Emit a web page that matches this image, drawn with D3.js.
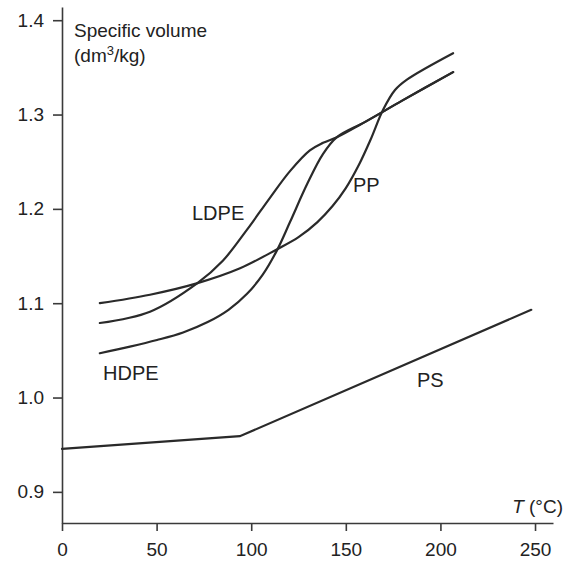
<!DOCTYPE html>
<html>
<head>
<meta charset="utf-8">
<script src="https://cdn.jsdelivr.net/npm/d3@7"></script>
<style>
  html, body { margin: 0; padding: 0; background: #fff; }
  svg { display: block; font-family: "Liberation Sans", Arial, sans-serif; }
</style>
</head>
<body>
<svg id="chart" width="574" height="563"></svg>
<script>
// temperature (°C) / specific volume (dm3/kg)
const ppT = [20, 46.5, 71.2, 94.1, 113.5, 125, 135, 143, 150, 157, 163, 169.7, 176, 182.3, 206.7];
const ppV = [1.100, 1.109, 1.121, 1.137, 1.157, 1.170, 1.186, 1.203, 1.222, 1.247, 1.273, 1.305, 1.326, 1.337, 1.365];

const ldpeT = [20, 46.5, 71.4, 85, 97.8, 110, 120.5, 131, 138, 145.3, 160, 180, 206.7];
const ldpeV = [1.079, 1.091, 1.121, 1.145, 1.178, 1.212, 1.240, 1.262, 1.270, 1.276, 1.292, 1.315, 1.345];

const hdpeT = [20, 35.9, 50.2, 64, 77, 88, 97.8, 106, 113.6, 120.5, 129.5, 137.9, 145.3, 160, 180, 206.7];
const hdpeV = [1.047, 1.054, 1.061, 1.069, 1.080, 1.093, 1.110, 1.130, 1.156, 1.186, 1.226, 1.258, 1.276, 1.292, 1.315, 1.345];

const psT = [0, 94, 248];
const psV = [0.9455, 0.959, 1.093];

const xTicks = [0, 50, 100, 150, 200, 250];
const yTicks = [0.9, 1.0, 1.1, 1.2, 1.3, 1.4];

const smooth = d3.curveCatmullRom.alpha(0.5);
const series = [
  { name: 'PP', t: ppT, v: ppV, lt: 153.8, lv: 1.218, curve: smooth },
  { name: 'LDPE', t: ldpeT, v: ldpeV, lt: 68.7, lv: 1.188, curve: smooth },
  { name: 'HDPE', t: hdpeT, v: hdpeV, lt: 21.7, lv: 1.019, curve: smooth },
  { name: 'PS', t: psT, v: psV, lt: 187.6, lv: 1.011, curve: d3.curveLinear }
];

const ink = '#2a2a2a';
const svg = d3.select('#chart');

// axes span a little past the last tick
const x = d3.scaleLinear().domain([0, 259.5]).range([62, 553]);
const y = d3.scaleLinear().domain([0.867, 1.414]).range([523, 7]);

svg.append('g')
  .attr('transform', `translate(0,${y(0.867)})`)
  .call(d3.axisBottom(x).tickValues(xTicks).tickSize(8).tickSizeOuter(0).tickPadding(12));

svg.append('g')
  .attr('transform', `translate(${x(0)},0)`)
  .call(d3.axisLeft(y).tickValues(yTicks).tickSize(9).tickSizeOuter(0).tickPadding(9)
    .tickFormat(d3.format('.1f')));

svg.selectAll('.domain, .tick line')
  .attr('stroke', '#3a3a3a')
  .attr('stroke-width', 1.6);

svg.selectAll('.tick text')
  .attr('fill', '#222')
  .style('font-size', '19px')
  .style('font-family', '"Liberation Sans", Arial, sans-serif');

// curves
svg.append('g')
  .selectAll('path')
  .data(series)
  .enter()
  .append('path')
  .attr('fill', 'none')
  .attr('stroke', ink)
  .attr('stroke-width', 2.2)
  .attr('stroke-linecap', 'round')
  .attr('d', s => d3.line()
    .x(d => x(d[0]))
    .y(d => y(d[1]))
    .curve(s.curve)(s.t.map((t, i) => [t, s.v[i]])));

// series labels
svg.append('g')
  .selectAll('text')
  .data(series)
  .enter()
  .append('text')
  .attr('x', s => x(s.lt))
  .attr('y', s => y(s.lv))
  .attr('fill', '#222')
  .style('font-size', '20px')
  .text(s => s.name);

// y-axis title
svg.append('text')
  .attr('x', 74)
  .attr('y', 37)
  .attr('fill', '#222')
  .style('font-size', '19px')
  .text('Specific volume');
const unit = svg.append('text')
  .attr('x', 74)
  .attr('y', 62)
  .attr('fill', '#222')
  .style('font-size', '19px');
unit.append('tspan').text('(dm');
unit.append('tspan').attr('dy', -7).style('font-size', '13px').text('3');
unit.append('tspan').attr('dy', 7).text('/kg)');

// x-axis title
const xTitle = svg.append('text')
  .attr('x', 563)
  .attr('y', 513)
  .attr('text-anchor', 'end')
  .attr('fill', '#222')
  .style('font-size', '19px');
xTitle.append('tspan').style('font-style', 'italic').text('T');
xTitle.append('tspan').text(' (°C)');
</script>
</body>
</html>
